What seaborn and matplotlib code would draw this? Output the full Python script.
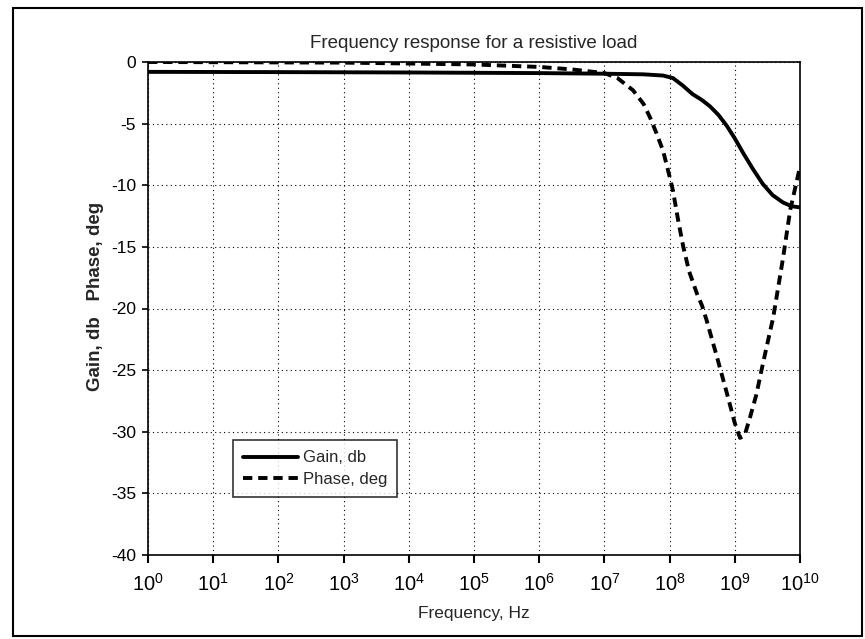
import numpy as np
import pandas as pd
import matplotlib
matplotlib.use("Agg")
import matplotlib.pyplot as plt
import seaborn as sns
from matplotlib.patches import Rectangle
from matplotlib.ticker import NullLocator, FuncFormatter

# log10 of frequency (Hz) and values
gain_exp = [0, 2, 4, 6, 7, 7.6, 7.9, 8.05, 8.2, 8.35, 8.5, 8.62, 8.75, 8.88,
            9.0, 9.13, 9.28, 9.43, 9.58, 9.74, 9.87, 10]
gain_db = [-0.8, -0.82, -0.85, -0.9, -0.95, -1.0, -1.1, -1.3, -1.9, -2.6, -3.1,
           -3.6, -4.3, -5.2, -6.2, -7.4, -8.7, -9.9, -10.8, -11.4, -11.7, -11.8]

phase_exp = [0, 3, 5, 6, 6.5, 7.0, 7.2, 7.44, 7.6, 7.7, 7.8, 7.9, 8.0, 8.05, 8.13,
             8.21, 8.3, 8.42, 8.5, 8.57, 8.65, 8.73, 8.88, 9.0, 9.08, 9.15, 9.23,
             9.33, 9.43, 9.59, 9.74, 9.85, 10]
phase_deg = [0, -0.05, -0.2, -0.4, -0.6, -0.9, -1.3, -2.3, -3.4, -4.5, -5.8, -7.2,
             -9.3, -10.4, -12.8, -15, -17, -18.8, -19.8, -21, -22.5, -24, -26.9,
             -29.3, -30.5, -30.3, -28.9, -27, -24.5, -20.7, -15.9, -12, -8.5]

series_names = ["Gain, db", "Phase, deg"]
x_ticks_exp = list(range(0, 11))
y_ticks = [0, -5, -10, -15, -20, -25, -30, -35, -40]

df = pd.concat([
    pd.DataFrame({"freq": np.power(10.0, gain_exp), "value": gain_db, "series": series_names[0]}),
    pd.DataFrame({"freq": np.power(10.0, phase_exp), "value": phase_deg, "series": series_names[1]}),
])

sns.set_style("white")
plt.rcParams["font.family"] = ["Liberation Sans", "DejaVu Sans"]
plt.rcParams["mathtext.fontset"] = "custom"
plt.rcParams["mathtext.rm"] = "Liberation Sans"
plt.rcParams["mathtext.it"] = "Liberation Sans:italic"
plt.rcParams["mathtext.bf"] = "Liberation Sans:bold"

fig = plt.figure(figsize=(8.65, 6.39), dpi=100)
ax = fig.add_axes([148/865, 1-555/639, (800-148)/865, (555-62)/639])

sns.lineplot(data=df, x="freq", y="value", hue="series", style="series",
             palette={series_names[0]: "black", series_names[1]: "black"},
             dashes={series_names[0]: "", series_names[1]: (2.4, 1.5)},
             linewidth=2.8, ax=ax, legend=True, estimator=None, sort=False)

ax.set_xscale("log")
ax.set_xlim(1, 1e10)
ax.set_ylim(-40, 0)
ax.set_xticks([10.0**e for e in x_ticks_exp])
ax.xaxis.set_minor_locator(NullLocator())
ax.xaxis.set_major_formatter(FuncFormatter(
    lambda v, p: r"$\mathregular{10^{%d}}$" % round(np.log10(v))))
ax.set_yticks(y_ticks)
ax.set_yticklabels([str(v) for v in y_ticks])

ax.grid(True, which="major", color="black", linestyle=(0, (1, 3)), linewidth=0.8)
for s in ax.spines.values():
    s.set_visible(True)
    s.set_color("black")
    s.set_linewidth(1.2)
ax.tick_params(axis="y", direction="out", length=4.5, width=1.2, color="black",
               labelsize=12.5, labelcolor="black", left=True, pad=4)
ax.tick_params(axis="x", direction="out", length=6, width=1.5, color="black",
               labelsize=14.5, labelcolor="black", bottom=True, pad=7)

ax.set_title("Frequency response for a resistive load", fontsize=13.5, pad=10)
ax.set_xlabel("Frequency, Hz", fontsize=12.5, labelpad=8)
ax.set_ylabel("Gain, db   Phase, deg", fontsize=13.5, fontweight="bold")
ax.yaxis.set_label_coords((104-148)/652, (555-296)/493)

leg = ax.legend(loc="lower left", bbox_to_anchor=((233-148)/652, (555-497)/493),
                borderaxespad=0, frameon=True, fancybox=False, edgecolor="black",
                fontsize=12, handlelength=3.3, handletextpad=0.3,
                borderpad=0.6, labelspacing=0.4)
leg.get_frame().set_linewidth(1.2)

fig.patches.append(Rectangle((13/865, 1-636/639), (862-13)/865, (636-8)/639,
                             transform=fig.transFigure, fill=False,
                             edgecolor="black", linewidth=1.5))

fig.savefig("out.png", dpi=100)
